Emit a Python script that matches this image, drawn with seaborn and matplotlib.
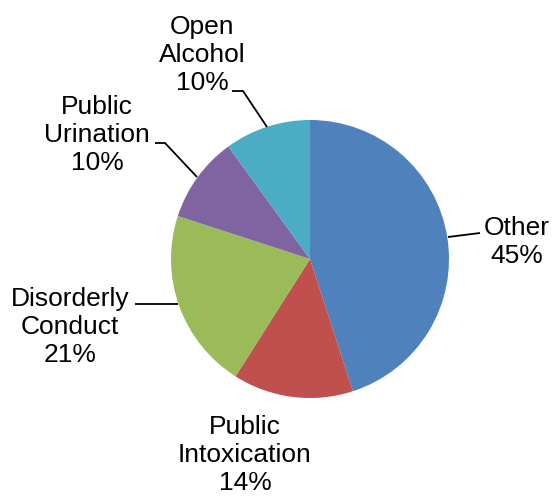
import matplotlib
matplotlib.use("Agg")
import matplotlib.pyplot as plt
import seaborn as sns

categories = ["Other", "Public\nIntoxication", "Disorderly\nConduct", "Public\nUrination", "Open\nAlcohol"]
shares = [45, 14, 21, 10, 10]
colors = ["#4F81BD", "#C0504D", "#9BBB59", "#8064A2", "#4BACC6"]

sns.set_theme(style="white")
plt.rcParams["font.family"] = ["Liberation Sans", "DejaVu Sans"]

W, H = 553, 497
fig = plt.figure(figsize=(W / 100, H / 100), dpi=100)
ax = fig.add_axes([0, 0, 1, 1])

cx, cy, r = 310, H - 259, 139
ax.pie(shares, colors=colors, startangle=90, counterclock=False,
       center=(cx, cy), radius=r, wedgeprops=dict(linewidth=0), frame=True)
ax.set_xlim(0, W)
ax.set_ylim(0, H)
ax.set_aspect("equal")
ax.axis("off")

# label positions (text centre) and leader polylines, in pixel space from top-left
label_pos = [(517, 242), (245, 455), (70, 327), (97, 135), (202, 55)]
leaders = [
    [(448, 237), (480, 233)],
    None,
    [(135, 304), (178, 304)],
    [(155, 143), (165, 143), (197, 177)],
    [(232, 91), (243, 91), (267, 127)],
]

for name, val, (lx, ly), lead in zip(categories, shares, label_pos, leaders):
    ax.text(lx, H - ly, f"{name}\n{val}%", ha="center", va="center",
            fontsize=19, color="black", linespacing=1.22)
    if lead:
        xs = [p[0] for p in lead]
        ys = [H - p[1] for p in lead]
        ax.plot(xs, ys, color="black", linewidth=1.3, solid_capstyle="butt")

fig.savefig("out.png", dpi=100, facecolor="white")
